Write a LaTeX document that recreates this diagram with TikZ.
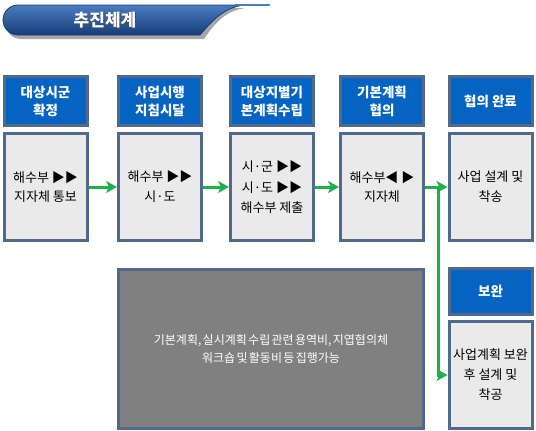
\documentclass[tikz,border=0pt]{standalone}
\usepackage{fontspec}
\setmainfont{Noto Sans CJK KR}
\newfontfamily\notefont[WordSpace=0.5]{Noto Sans CJK KR}
\usetikzlibrary{arrows.meta}
\definecolor{boxblue}{HTML}{0563C1}
\definecolor{boxrim}{HTML}{4F6A8A}
\definecolor{boxgray}{HTML}{EAEAEA}
\definecolor{notegray}{HTML}{808080}
\definecolor{flowgreen}{HTML}{1FB04B}
\definecolor{bandtop}{HTML}{4A7DC0}
\definecolor{bandbot}{HTML}{163C78}

\tikzset{
  headbox/.style={draw=boxrim,line width=3pt,fill=boxblue,text=white,font=\bfseries\fontsize{13.5}{18}\selectfont,
    minimum width=83pt,minimum height=49pt,align=center,inner sep=0pt},
  bodybox/.style={draw=boxrim,line width=3pt,fill=boxgray,font=\fontsize{13}{20}\selectfont,
    minimum width=83pt,minimum height=107pt,align=center,inner sep=0pt},
  notebox/.style={draw=boxrim,line width=3pt,fill=notegray,text=white,
    font=\notefont\fontsize{12}{18}\selectfont,
    minimum width=305pt,minimum height=159pt,align=center,inner sep=0pt},
  flow/.style={draw=flowgreen,line width=3pt,-{Stealth[length=11pt,width=12pt,inset=3pt]}}
}

\begin{document}
\begin{tikzpicture}[x=1pt,y=-1pt]
 \useasboundingbox (0,0) rectangle (536,431);
 % title band
 \fill[black!35] (21,8) -- (246,8) .. controls (226,10) and (214,24) .. (204,39) -- (21,39)
   arc (90:270:15.5) -- cycle;
 \shade[top color=bandtop,bottom color=bandbot,draw=bandbot,line width=.8pt]
   (18,5) -- (245,5) .. controls (224,7) and (212,21) .. (200,35) -- (18,35)
   arc (90:270:15) -- cycle;
 \draw[bandtop,line width=1.2pt] (235,5) -- (270,5);
 \node[text=black!70,font=\bfseries\fontsize{17}{18}\selectfont] at (106,21) {추진체계};
 \node[text=white,font=\bfseries\fontsize{17}{18}\selectfont] (title) at (105,20) {추진체계};
 % columns
 \node[headbox] (h1) at (45.5,101) {대상시군\\확정};
 \node[headbox] (h2) at (160,101) {사업시행\\지침시달};
 \node[headbox] (h3) at (272,101) {대상지별기\\본계획수립};
 \node[headbox] (h4) at (382,101) {기본계획\\협의};
 \node[headbox] (h5) at (490.5,101) {협의 완료};
 \node[bodybox] (b1) at (45.5,187) {해수부 ▶▶\\지자체 통보};
 \node[bodybox] (b2) at (160,187) {해수부 ▶▶\\시·도};
 \node[bodybox] (b3) at (272,187) {시·군 ▶▶\\시·도 ▶▶\\해수부 제출};
 \node[bodybox] (b4) at (382,187) {해수부◀ ▶\\지자체};
 \node[bodybox] (b5) at (490.5,187) {사업 설계 및\\착송};
 \node[headbox,minimum height=46pt] (h6) at (490.5,291.5) {보완};
 \node[bodybox] (b6) at (490.5,375) {사업계획 보완\\후 설계 및\\착공};
 \node[notebox] (note) at (271,349) {기본계획, 실시계획 수립 관련 용역비, 지엽협의체\\워크숍 및 활동비 등 집행가능};
 % flow
 \draw[flow] (b1) -- (b2);
 \draw[flow] (b2) -- (b3);
 \draw[flow] (b3) -- (b4);
 \draw[flow] (b4) -- (b5);
 \coordinate (split) at (438,187);
 \draw[flow] (split) |- (b6.west);
\end{tikzpicture}
\end{document}
